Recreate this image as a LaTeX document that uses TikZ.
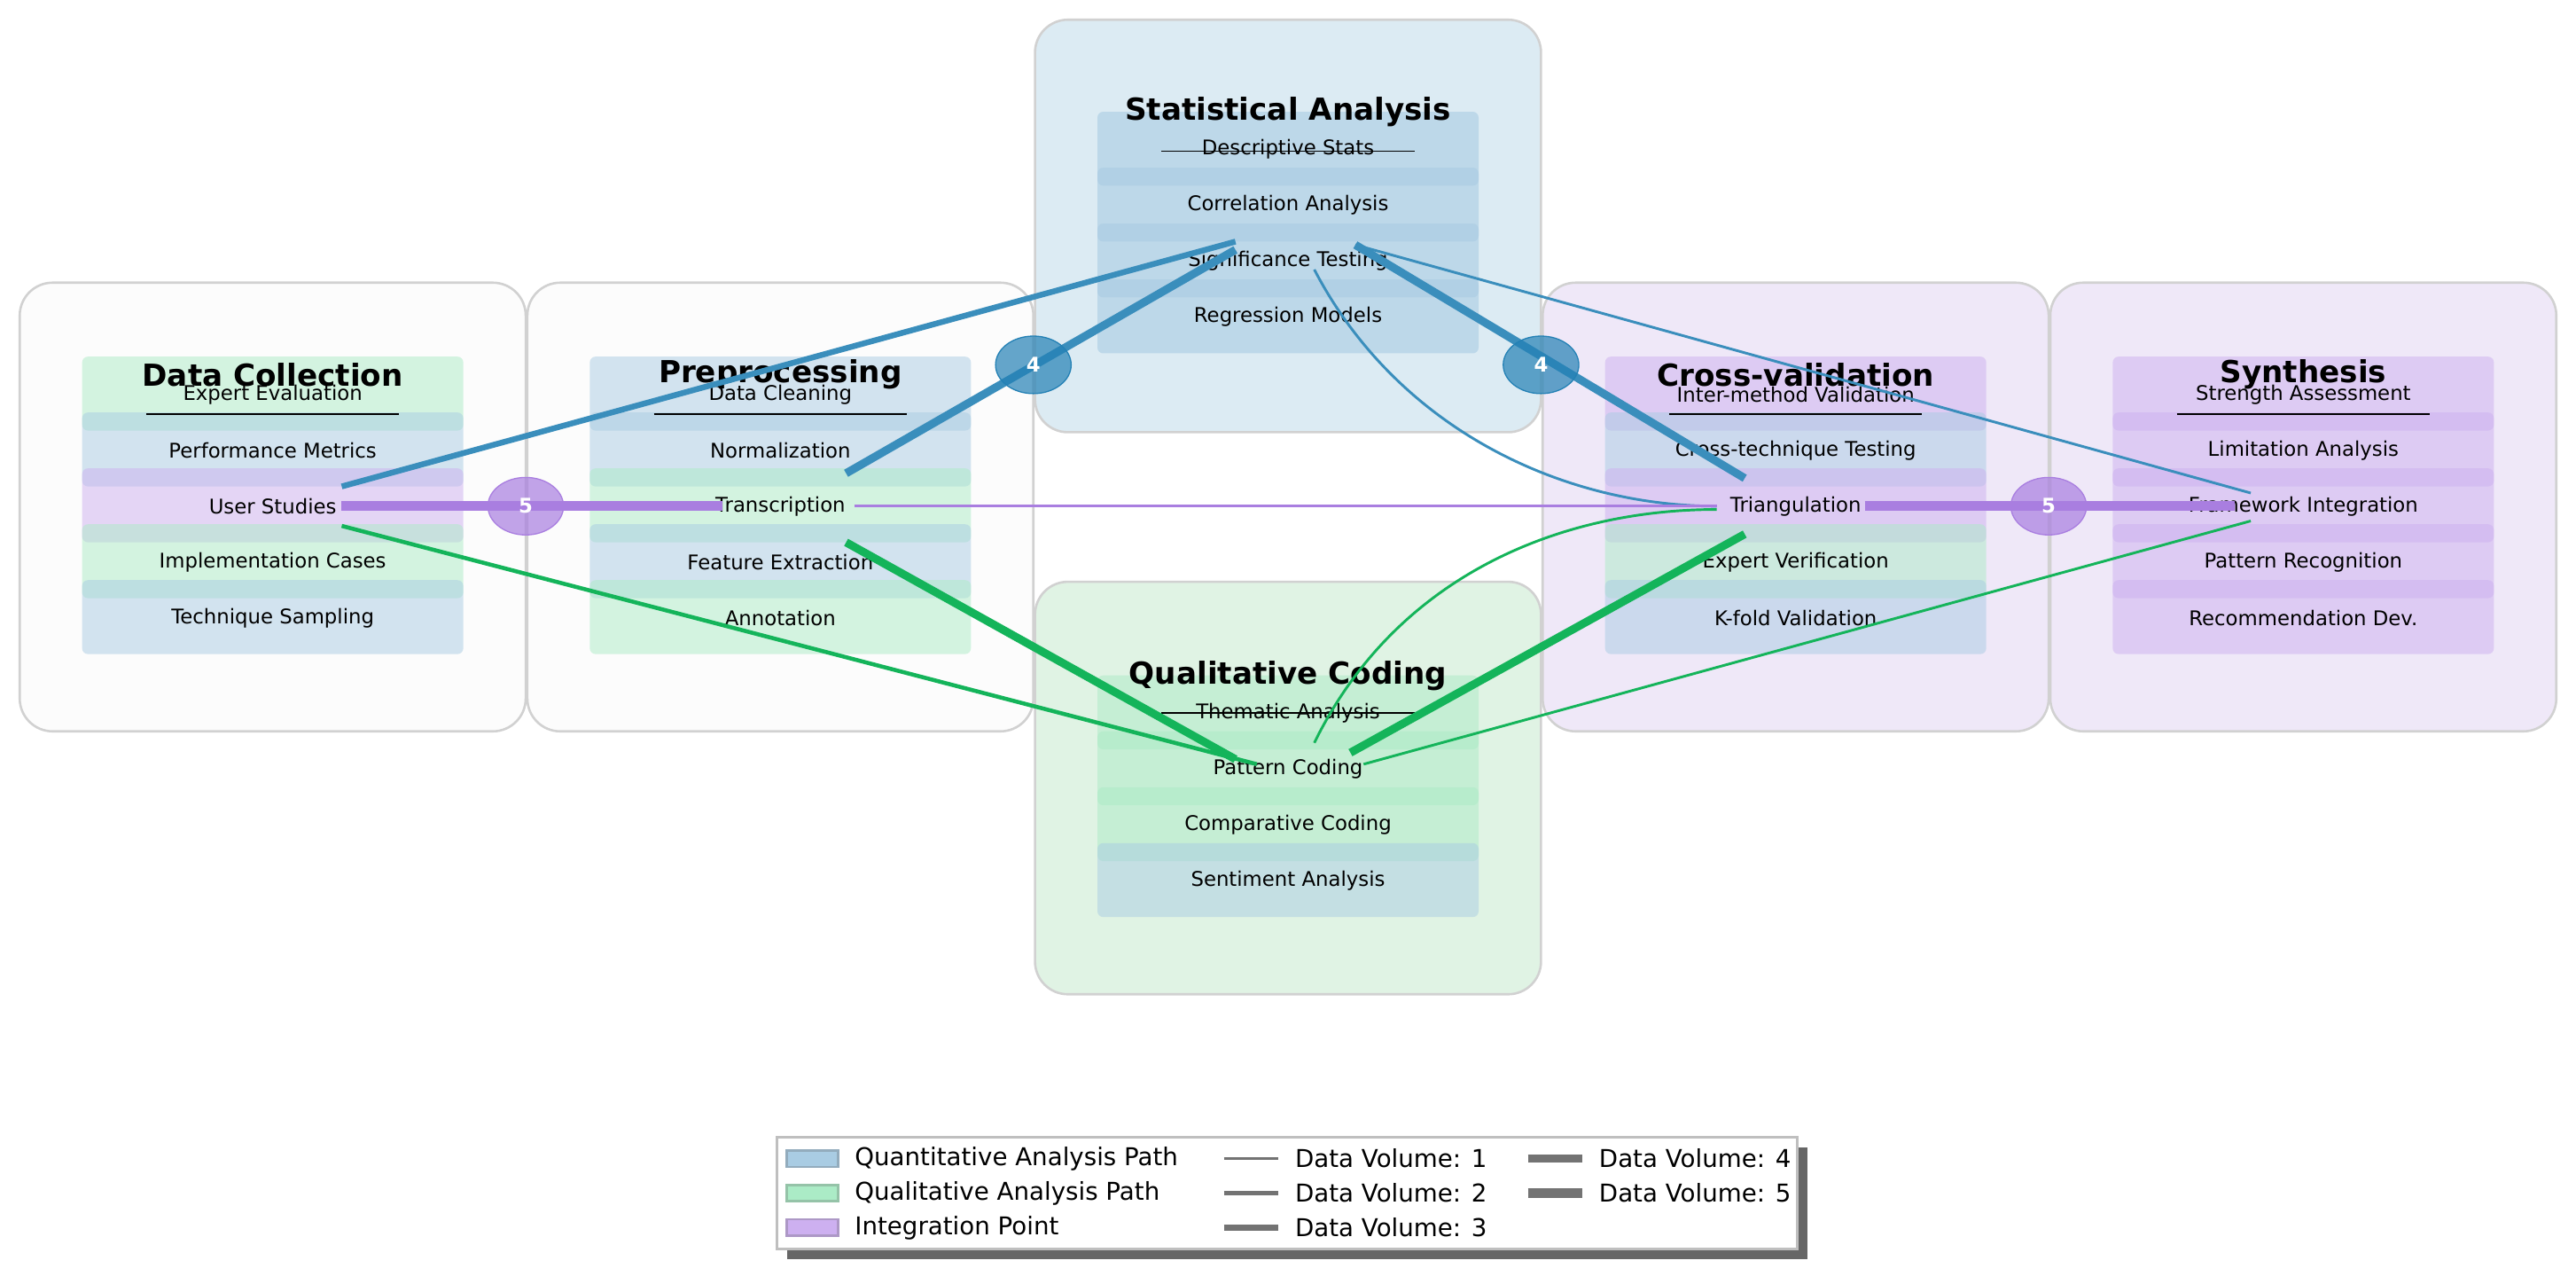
\documentclass[tikz,border=0pt]{standalone}
\usepackage{fontspec}
\setmainfont{DejaVu Sans}
\usetikzlibrary{calc,positioning,shapes.geometric}
\definecolor{qblue}{HTML}{A9CCE3}
\definecolor{qgreen}{HTML}{ABEBC6}
\definecolor{qpurple}{HTML}{CDB0F0}
\definecolor{lblue}{HTML}{2481B5}
\definecolor{lgreen}{HTML}{14B45A}
\definecolor{lpurple}{HTML}{A97EE0}
\definecolor{bgray}{HTML}{FCFCFC}
\definecolor{bblue}{HTML}{DCEBF3}
\definecolor{bgreen}{HTML}{E0F3E4}
\definecolor{bpurple}{HTML}{EFE8F8}
\tikzset{
  stage/.style={draw=black!18, line width=0.8pt, rounded corners=0.4cm},
  item/.style={font=\fontsize{7}{8}\selectfont, inner sep=0pt},
  title/.style={font=\fontsize{10.5}{12}\selectfont\bfseries, inner sep=0pt},
  vol1/.style={line width=0.9pt}, vol2/.style={line width=1.4pt},
  vol3/.style={line width=2pt}, vol4/.style={line width=2.8pt},
  vol5/.style={line width=3.4pt},
  badge/.style={ellipse, minimum width=0.92cm, minimum height=0.7cm, inner sep=0pt,
    font=\fontsize{7}{8}\selectfont\bfseries, text=white},
  lgd/.style={font=\fontsize{8.5}{10}\selectfont, anchor=west, inner sep=0pt}
}
\begin{document}
\begin{tikzpicture}[x=0.02cm,y=-0.02cm]
\useasboundingbox (0,0) rectangle (1568,781);

% stage boxes
\draw[stage, fill=bgray] (12,172) rectangle (320,445);
\draw[stage, fill=bgray] (321,172) rectangle (629,445);
\draw[stage, fill=bblue] (630,12) rectangle (938,263);
\draw[stage, fill=bgreen] (630,354) rectangle (938,605);
\draw[stage, fill=bpurple] (939,172) rectangle (1247,445);
\draw[stage, fill=bpurple] (1248,172) rectangle (1556,445);

% items
\foreach \t/\c [count=\i] in {Expert Evaluation/qgreen, Performance Metrics/qblue,
  User Studies/qpurple, Implementation Cases/qgreen, Technique Sampling/qblue}{
  \fill[\c, opacity=.5, rounded corners=2pt] (50,{240+34*(\i-1)-23}) rectangle (282,{240+34*(\i-1)+22});
  \node[item] (dc\i) at (166,{240+34*(\i-1)}) {\t};}
\foreach \t/\c [count=\i] in {Data Cleaning/qblue, Normalization/qblue,
  Transcription/qgreen, Feature Extraction/qblue, Annotation/qgreen}{
  \fill[\c, opacity=.5, rounded corners=2pt] (359,{240+34*(\i-1)-23}) rectangle (591,{240+34*(\i-1)+22});
  \node[item] (pp\i) at (475,{240+34*(\i-1)}) {\t};}
\foreach \t/\c [count=\i] in {Descriptive Stats/qblue, Correlation Analysis/qblue,
  Significance Testing/qblue, Regression Models/qblue}{
  \fill[\c, opacity=.6, rounded corners=2pt] (668,{91+34*(\i-1)-23}) rectangle (900,{91+34*(\i-1)+22});
  \node[item] (sa\i) at (784,{91+34*(\i-1)}) {\t};}
\foreach \t/\c [count=\i] in {Thematic Analysis/qgreen, Pattern Coding/qgreen,
  Comparative Coding/qgreen, Sentiment Analysis/qblue}{
  \fill[\c, opacity=.5, rounded corners=2pt] (668,{434+34*(\i-1)-23}) rectangle (900,{434+34*(\i-1)+22});
  \node[item] (qc\i) at (784,{434+34*(\i-1)}) {\t};}
\foreach \t/\c [count=\i] in {Inter-method Validation/qpurple, Cross-technique Testing/qblue,
  Triangulation/qpurple, Expert Verification/qgreen, K-fold Validation/qblue}{
  \fill[\c, opacity=.5, rounded corners=2pt] (977,{240+34*(\i-1)-23}) rectangle (1209,{240+34*(\i-1)+22});
  \node[item] (cv\i) at (1093,{240+34*(\i-1)}) {\t};}
\foreach \t [count=\i] in {Strength Assessment, Limitation Analysis,
  Framework Integration, Pattern Recognition, Recommendation Dev.}{
  \fill[qpurple, opacity=.5, rounded corners=2pt] (1286,{240+34*(\i-1)-23}) rectangle (1518,{240+34*(\i-1)+22});
  \node[item] (sy\i) at (1402,{240+34*(\i-1)}) {\t};}

% titles
\node[title] (tdc) at (166,228) {Data Collection};
\node[title] (tpp) at (475,228) {Preprocessing};
\node[title] (tsa) at (784,68) {Statistical Analysis};
\node[title] (tqc) at (784,411) {Qualitative Coding};
\node[title] (tcv) at (1093,228) {Cross-validation};
\node[title] (tsy) at (1402,228) {Synthesis};
\foreach \x/\y in {166/252,475/252,784/92,784/434,1093/252,1402/252}
  \draw[line width=0.6pt] (\x-77,\y) -- (\x+77,\y);

% connector end points
\coordinate (usA) at (208,296); \coordinate (usB) at (208,308); \coordinate (usC) at (208,320);
\coordinate (trA) at (515,288); \coordinate (trB) at (440,308); \coordinate (trC) at (520,308);
\coordinate (trD) at (515,330);
\coordinate (stA) at (752,147); \coordinate (stB) at (752,152); \coordinate (stC) at (825,149);
\coordinate (stD) at (800,164);
\coordinate (pcA) at (765,465); \coordinate (pcB) at (752,462); \coordinate (pcC) at (822,458);
\coordinate (pcD) at (830,465); \coordinate (pcE) at (800,452);
\coordinate (tgA) at (1062,291); \coordinate (tgB) at (1045,308); \coordinate (tgC) at (1135,308);
\coordinate (tgD) at (1062,325); \coordinate (tgE) at (1045,310);
\coordinate (fiA) at (1370,300); \coordinate (fiB) at (1360,308); \coordinate (fiC) at (1370,317);

% quantitative flows
\draw[lblue!90, vol3] (usA) -- (stA);
\draw[lblue!90, vol4] (trA) -- (stB);
\draw[lblue!90, vol4] (stC) -- (tgA);
\draw[lblue!90, vol1] (stC) -- (fiA);
\draw[lblue!90, vol1] (stD) .. controls (850,260) and (950,308) .. (tgB);
% qualitative flows
\draw[lgreen, vol2] (usC) -- (pcA);
\draw[lgreen, vol4] (trD) -- (pcB);
\draw[lgreen, vol4] (pcC) -- (tgD);
\draw[lgreen, vol1] (pcD) -- (fiC);
\draw[lgreen, vol1] (pcE) .. controls (850,350) and (950,310) .. (tgE);
% integration flows
\draw[lpurple, vol5] (usB) -- (trB);
\draw[lpurple, vol1] (trC) -- (tgB);
\draw[lpurple, vol5] (tgC) -- (fiB);

% badges
\node[badge, fill=lblue, fill opacity=.7, draw=lblue, text opacity=1] (b1) at (629,222) {4};
\node[badge, fill=lblue, fill opacity=.7, draw=lblue, text opacity=1] (b2) at (938,222) {4};
\node[badge, fill=lpurple, fill opacity=.7, draw=lpurple, text opacity=1] (b3) at (320,308) {5};
\node[badge, fill=lpurple, fill opacity=.7, draw=lpurple, text opacity=1] (b4) at (1247,308) {5};

% legend
\fill[black!60] (479,698) rectangle (1100,766);
\draw[black!25, fill=white, line width=0.8pt] (473,692) rectangle (1094,760);
\foreach \c/\t [count=\i] in {qblue/Quantitative Analysis Path, qgreen/Qualitative Analysis Path,
  qpurple/Integration Point}{
  \draw[\c!80!black!90, fill=\c, line width=0.8pt] (479,{705+21*(\i-1)-5}) rectangle (510,{705+21*(\i-1)+5});
  \node[lgd] (lg\i) at (520,{705+21*(\i-1)}) {\t};}
\foreach \w [count=\i] in {0.9,1.4,2}{
  \draw[black!55, line width=\w pt] (745,{705+21*(\i-1)}) -- (778,{705+21*(\i-1)});
  \node[lgd] (lv\i) at (788,{705+21*(\i-1)}) {Data Volume: \i};}
\foreach \w/\n [count=\i] in {2.8/4,3.4/5}{
  \draw[black!55, line width=\w pt] (930,{705+21*(\i-1)}) -- (963,{705+21*(\i-1)});
  \node[lgd] (lw\i) at (973,{705+21*(\i-1)}) {Data Volume: \n};}
\end{tikzpicture}
\end{document}
